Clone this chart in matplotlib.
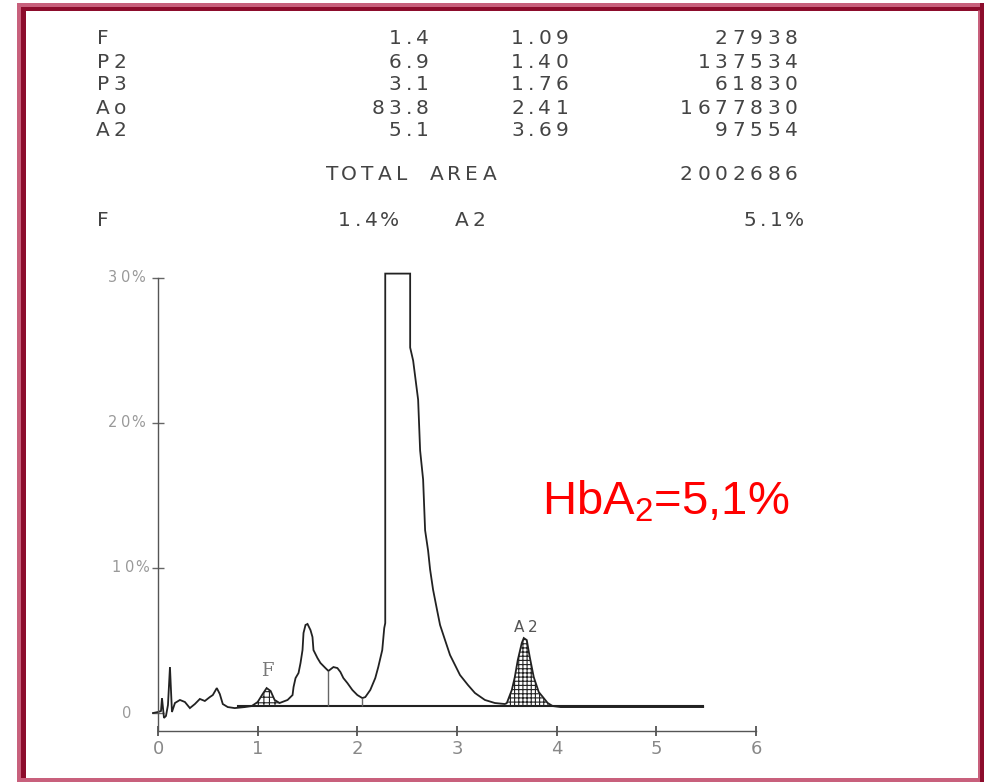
import numpy as np
import matplotlib.pyplot as plt
from matplotlib.transforms import Affine2D, ScaledTranslation
from matplotlib.lines import Line2D

plt.rcParams['mathtext.fontset'] = 'custom'
plt.rcParams['mathtext.rm'] = 'Liberation Sans'
plt.rcParams['mathtext.it'] = 'Liberation Sans:italic'
plt.rcParams['hatch.linewidth'] = 0.8

# report table
peak_names = ['F', 'P2', 'P3', 'Ao', 'A2']
peak_pct = ['1.4', '6.9', '3.1', '83.8', '5.1']
peak_rt = ['1.09', '1.40', '1.76', '2.41', '3.69']
peak_area = ['27938', '137534', '61830', '1677830', '97554']
total_area = '2002686'
f_pct = '1.4%'
a2_pct = '5.1%'

# chromatogram trace (retention time in min, signal in %)
trace_t = [-0.05, 0.0, 0.03, 0.04, 0.06, 0.08, 0.10, 0.12, 0.14, 0.17, 0.22, 0.27,
           0.32, 0.37, 0.42, 0.47, 0.52, 0.55, 0.59, 0.62, 0.65, 0.70, 0.77, 0.87,
           0.94, 1.00, 1.05, 1.09, 1.13, 1.17, 1.22, 1.30, 1.35, 1.36, 1.38, 1.41,
           1.43, 1.45, 1.46, 1.48, 1.50, 1.53, 1.55, 1.56, 1.60, 1.63, 1.68, 1.71,
           1.76, 1.80, 1.83, 1.86, 1.90, 1.95, 2.00, 2.05, 2.08, 2.13, 2.18, 2.21,
           2.25, 2.27, 2.28, 2.28, 2.53, 2.53, 2.56, 2.61, 2.63, 2.66, 2.68, 2.71,
           2.73, 2.76, 2.80, 2.83, 2.88, 2.93, 2.98, 3.03, 3.11, 3.18, 3.28, 3.38,
           3.48, 3.50, 3.55, 3.58, 3.61, 3.65, 3.67, 3.70, 3.73, 3.77, 3.82, 3.87,
           3.91, 3.96, 4.04, 5.47]
trace_v = [0.0, 0.07, 0.14, 1.03, -0.34, -0.2, 0.55, 3.17, 0.07, 0.69, 0.9, 0.76,
           0.34, 0.62, 0.97, 0.83, 1.1, 1.24, 1.72, 1.31, 0.62, 0.41, 0.34, 0.41,
           0.48, 0.76, 1.31, 1.72, 1.52, 0.9, 0.69, 0.9, 1.24, 1.79, 2.41, 2.76,
           3.45, 4.34, 5.52, 6.07, 6.14, 5.72, 5.24, 4.34, 3.79, 3.45, 3.1, 2.9,
           3.17, 3.1, 2.83, 2.41, 2.07, 1.59, 1.24, 1.03, 1.1, 1.59, 2.41, 3.17,
           4.34, 5.86, 6.2, 30.3, 30.3, 25.2, 24.3, 21.6, 18.1, 16.1, 12.6, 11.2,
           9.9, 8.5, 7.1, 6.07, 5.03, 4.0, 3.31, 2.62, 1.93, 1.38, 0.9, 0.69,
           0.62, 0.69, 1.59, 2.48, 3.66, 4.83, 5.17, 5.03, 3.86, 2.48, 1.45, 1.03,
           0.69, 0.48, 0.41, 0.41]
baseline_v = 0.5
baseline_span = [0.8, 5.47]
drop_lines = [1.71, 2.05]
f_window = [0.94, 1.22]
a2_window = [3.50, 3.96]

W, H = 984, 782
fig = plt.figure(figsize=(W / 100, H / 100), dpi=100)
px = Affine2D().scale(1 / W, -1 / H).translate(0, 1) + fig.transFigure


def spaced(x, y, s, trans, pitch, size, color='#444', align='left'):
    # dot-matrix style text: fixed cells, punctuation gets a narrow one
    widths = [pitch * 0.55 if ch in '.,' else pitch for ch in s]
    total = sum(widths)
    pos = {'left': 0, 'right': -total, 'center': -total / 2}[align]
    for ch, w in zip(s, widths):
        off = ScaledTranslation((pos + w / 2) / fig.dpi, 0, fig.dpi_scale_trans)
        fig.text(x, y, ch, transform=trans + off, ha='center', va='center',
                 fontsize=size, color=color, family='DejaVu Sans')
        pos += w


# frame
pink, dark = '#c8607c', '#8c0c2c'
for xs, ys, c, w in [([18.5, 18.5], [3, 782], pink, 4), ([23, 23], [7, 782], dark, 5),
                     ([17, 984], [4.5, 4.5], pink, 4), ([21, 980], [8.5, 8.5], dark, 4),
                     ([978.5, 978.5], [10, 780], pink, 3), ([982, 982], [3, 782], dark, 4),
                     ([21, 980], [780, 780], pink, 4)]:
    fig.add_artist(Line2D(xs, ys, transform=px, color=c, lw=w * 0.72, solid_capstyle='butt'))

# report header
pitch, fs, tc = 17.5, 14.5, '#444'
row_y = [39, 63, 85, 108, 130]
for y, n, p, r, a in zip(row_y, peak_names, peak_pct, peak_rt, peak_area):
    spaced(94, y, n, px, pitch, fs, tc, 'left')
    spaced(431, y, p, px, pitch, fs, tc, 'right')
    spaced(571, y, r, px, pitch, fs, tc, 'right')
    spaced(800, y, a, px, pitch, fs, tc, 'right')
spaced(323, 175, 'TOTAL AREA', px, pitch, fs, tc, 'left')
spaced(800, 175, total_area, px, pitch, fs, tc, 'right')
spaced(94, 220, 'F', px, pitch, fs, tc, 'left')
spaced(336, 220, f_pct, px, pitch, fs, tc, 'left')
spaced(453, 220, 'A2', px, pitch, fs, tc, 'left')
spaced(803, 220, a2_pct, px, pitch, fs, tc, 'right')

# chromatogram
ax = fig.add_axes([158 / W, (H - 731) / H, 598 / W, (731 - 273.6) / H])
ax.set_xlim(0, 6)
ax.set_ylim(-1.24, 30.3)
for s in ['top', 'right']:
    ax.spines[s].set_visible(False)
for s in ['left', 'bottom']:
    ax.spines[s].set_color('#555')
    ax.spines[s].set_linewidth(1.0)
ax.spines['left'].set_bounds(-1.24, 30)

ax.set_xticks(range(7))
ax.set_xticklabels([str(i) for i in range(7)], fontsize=13, color='#888')
ax.tick_params(axis='x', direction='inout', length=7, width=1.2, color='#444', pad=3)
ax.set_yticks([0, 10, 20, 30])
ax.set_yticklabels([])
ax.tick_params(axis='y', direction='inout', length=8, width=1, color='#666')
ylab = ax.get_yaxis_transform()
for v, lab, dx in [(0, '0', -25), (10, '10%', -9), (20, '20%', -13), (30, '30%', -13)]:
    spaced(0, v, lab, ylab + ScaledTranslation(dx / 100, 0, fig.dpi_scale_trans),
           13, 10.5, '#999', 'right')

t = np.array(trace_t)
v = np.array(trace_v)
ax.plot(t, v, color='#222', lw=1.3, clip_on=False, solid_joinstyle='miter')
ax.plot(baseline_span, [baseline_v, baseline_v], color='#222', lw=1.5)
for d in drop_lines:
    ax.vlines(d, baseline_v, np.interp(d, t, v), color='#666', lw=1)

for (lo, hi), hatch in [(f_window, '+++'), (a2_window, '++++')]:
    m = (t >= lo) & (t <= hi)
    ax.fill_between(t[m], v[m], baseline_v, facecolor='none', edgecolor='#222',
                    hatch=hatch, lw=0)

ax.text(1.1, 2.9, 'F', fontsize=13, color='#777', ha='center', va='center', family='DejaVu Serif')
spaced(3.69, 5.9, 'A2', ax.transData, 13, 11, '#555', 'center')

fig.text(542, 515, r'HbA$_2$=5,1%', transform=px, fontsize=34, color='#ff0000',
         family='Liberation Sans', ha='left', va='baseline')

fig.savefig('out.png', dpi=100)
